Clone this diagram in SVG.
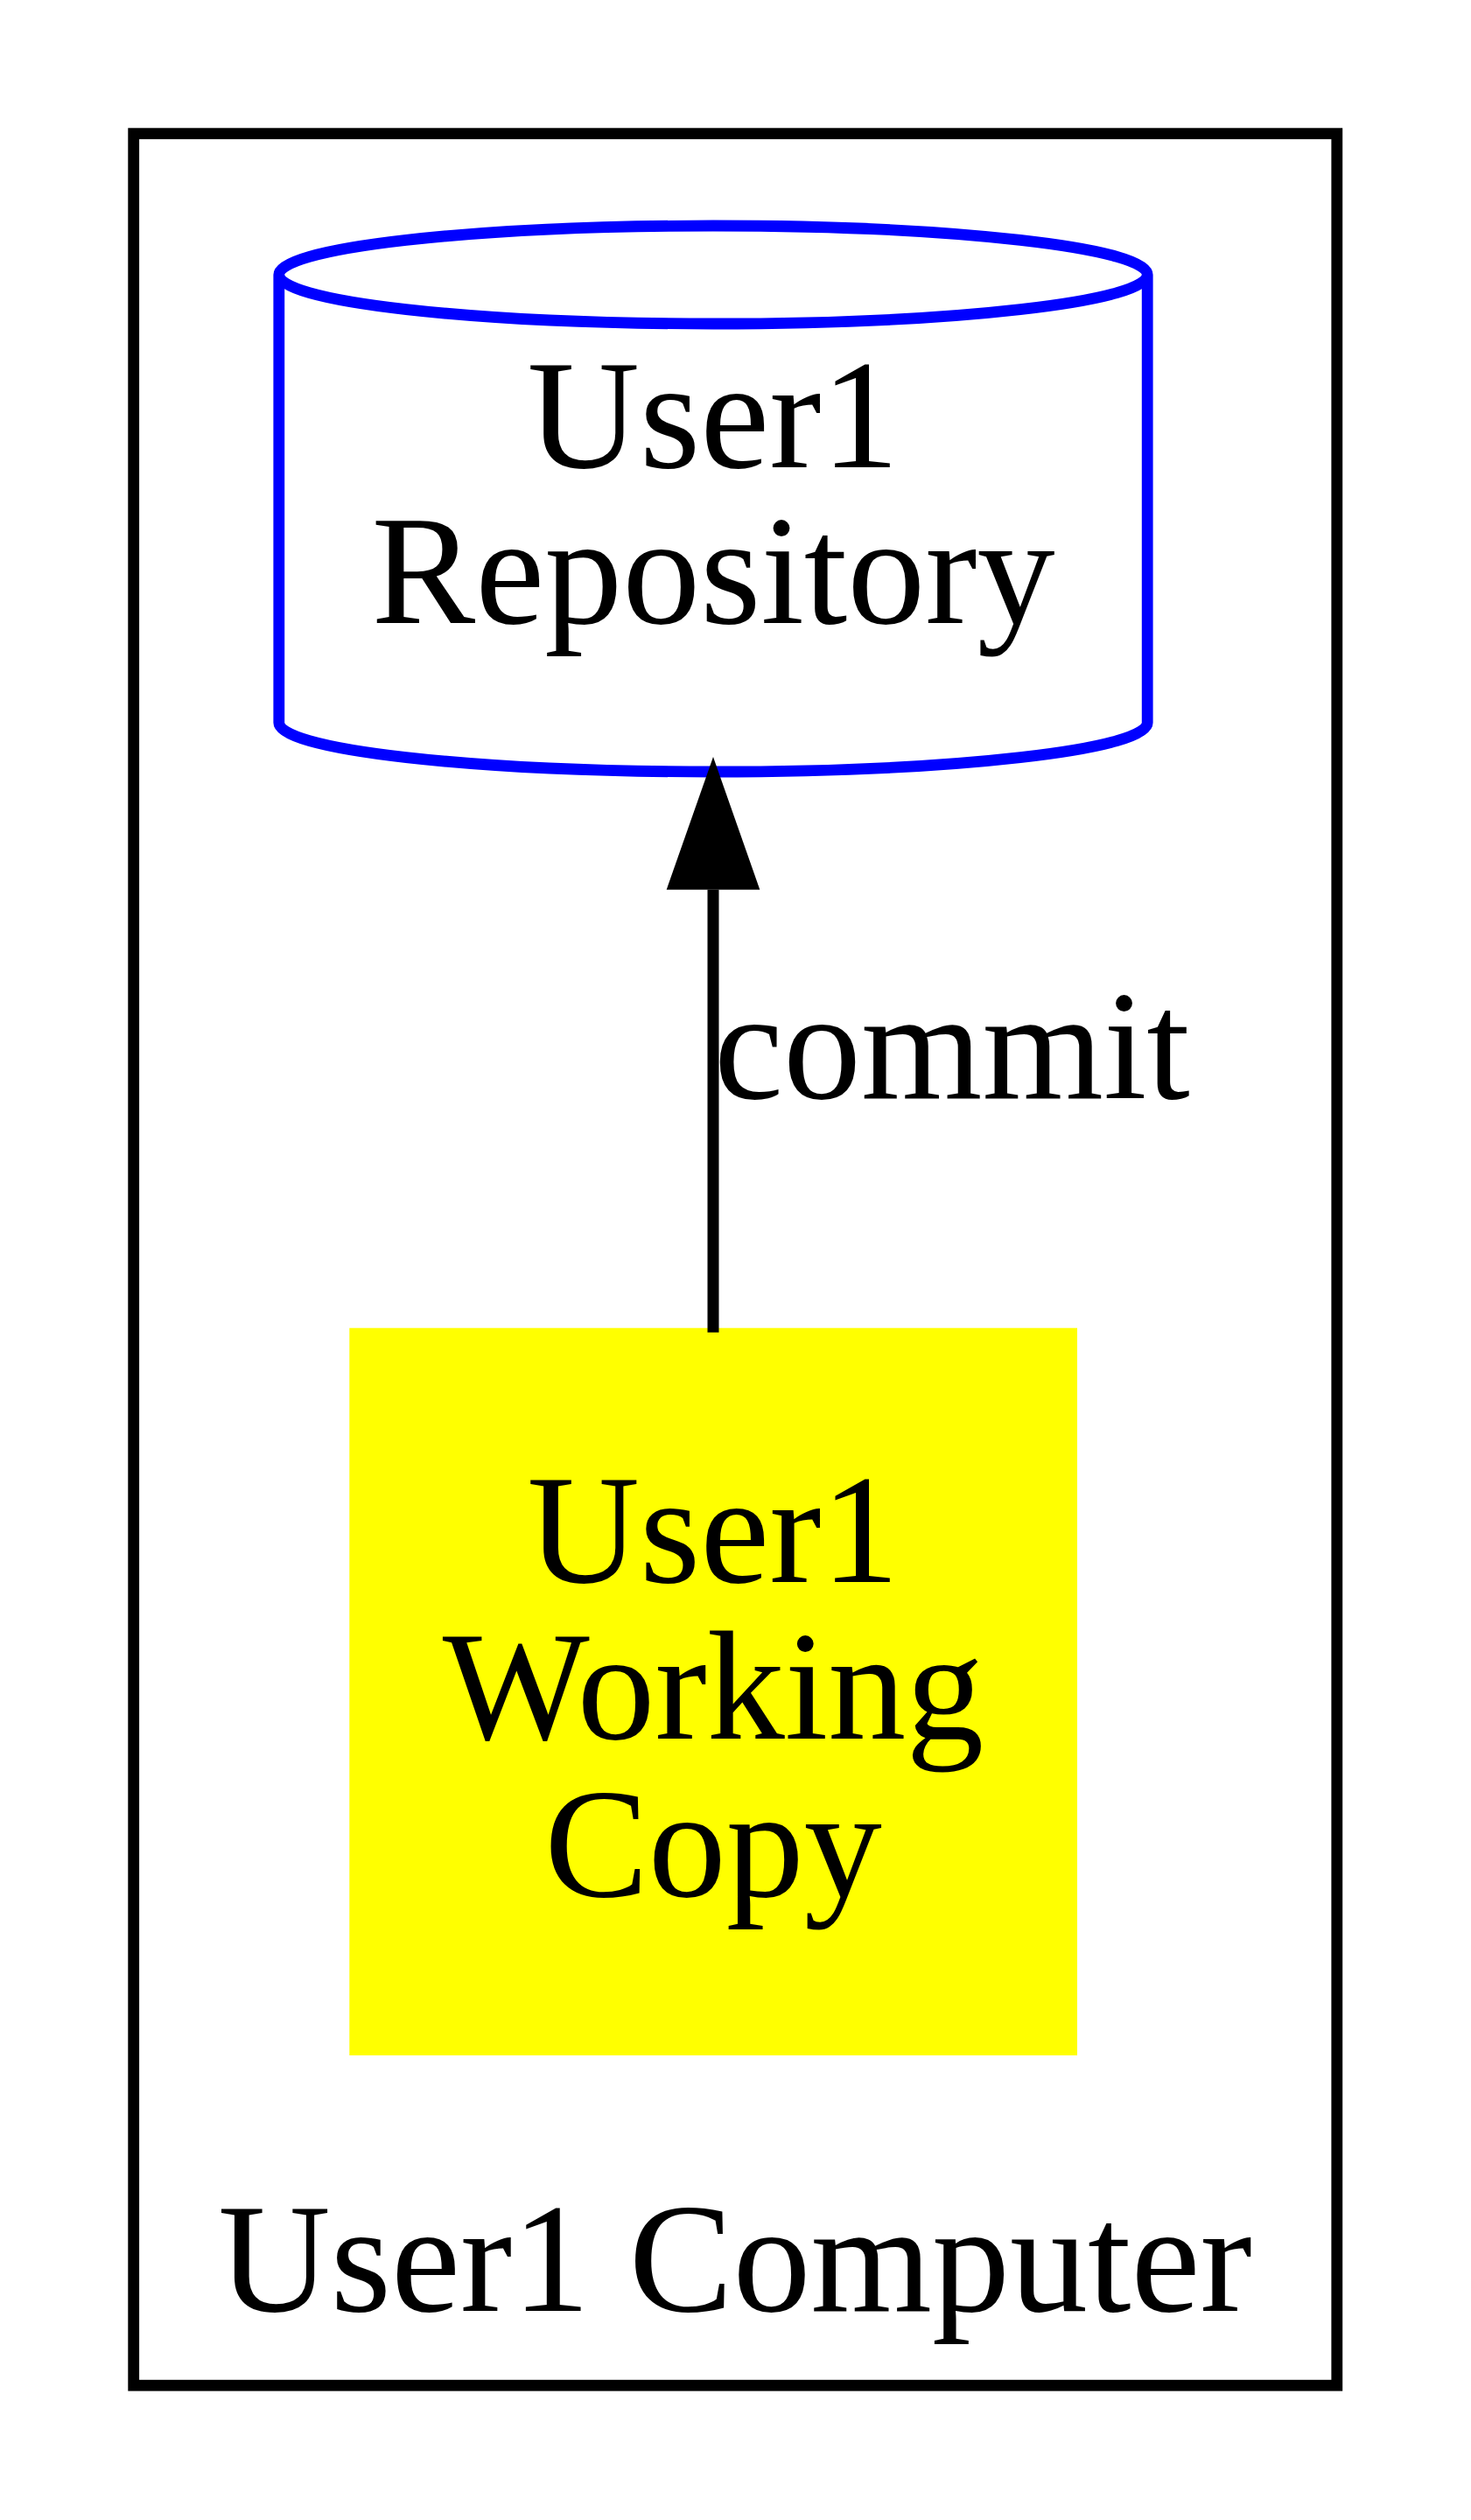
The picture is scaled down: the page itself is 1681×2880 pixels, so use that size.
<svg xmlns="http://www.w3.org/2000/svg" width="1681" height="2880" viewBox="0 0 1681 2880">
<style>
  text { font-family: "Liberation Serif", "Times New Roman", serif; font-size: 178px; fill: #000000; }
  .mid { text-anchor: middle; }
  .cluster { fill: none; stroke: #000000; stroke-width: 12.8; }
  .cyl { fill: none; stroke: #0000ff; stroke-width: 12.8; stroke-linejoin: round; }
  .edge { fill: none; stroke: #000000; stroke-width: 13; }
</style>
<defs>
  <marker id="arrow" markerUnits="userSpaceOnUse" orient="auto" refX="0" refY="0" markerWidth="200" markerHeight="200" viewBox="-10 -100 200 200" overflow="visible">
    <path d="M0,-53.3 L151.7,0 L0,53.3 Z" fill="#000000"/>
  </marker>
</defs>
<rect x="0" y="0" width="1681" height="2880" fill="#ffffff"/>
<g id="cluster_user1">
  <rect class="cluster" x="152.7" y="152.7" width="1375.1" height="2573.5"/>
  <text class="mid" x="840" y="2641">User1 Computer</text>
</g>
<g id="node_repository">
  <path class="cyl" d="M318.8,314 A496.2,56 0 0 0 1311.2,314 A496.2,56 0 0 0 318.8,314 Z M318.8,314 L318.8,826 A496.2,56 0 0 0 1311.2,826 L1311.2,314"/>
  <text class="mid" x="815" y="534">User1</text>
  <text class="mid" x="815" y="712">Repository</text>
</g>
<g id="node_working_copy">
  <rect x="399.3" y="1517.7" width="831.7" height="831.3" fill="#ffff00" stroke="#ffff00" stroke-width="0"/>
  <text class="mid" x="815" y="1808">User1</text>
  <text class="mid" x="815" y="1987">Working</text>
  <text class="mid" x="815" y="2167">Copy</text>
</g>
<g id="connectors">
  <g id="edge_commit">
    <path class="edge" d="M815,1522.7 L815,1016.7" marker-end="url(#arrow)"/>
    <text x="816" y="1255">commit</text>
  </g>
</g>
</svg>
